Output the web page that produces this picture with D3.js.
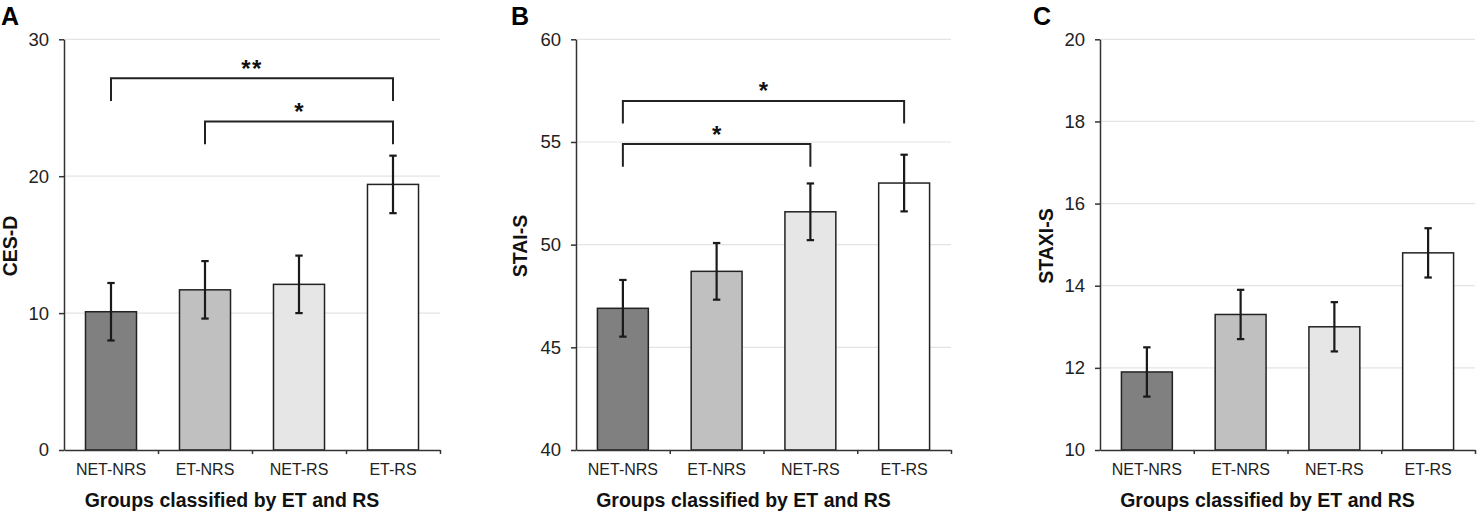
<!DOCTYPE html>
<html>
<head>
<meta charset="utf-8">
<script src="https://cdn.jsdelivr.net/npm/d3@7"></script>
<style>
  body { margin: 0; background: #fff; }
  svg { display: block; font-family: "Liberation Sans", Arial, sans-serif; }
  .grid line { stroke: #e4e4e4; stroke-width: 1.2; }
  .yaxis path, .yaxis line, .xaxis path, .xaxis line { stroke: #333; stroke-width: 1.5; }
  .yaxis text { font-size: 18.5px; fill: #222; }
  .cats text { font-size: 16px; fill: #222; }
  .bar { stroke: #222; stroke-width: 1.5; }
  .err { stroke: #1a1a1a; stroke-width: 2.2; }
  .bracket { fill: none; stroke: #222; stroke-width: 2; }
  .star { font-size: 24px; font-weight: bold; fill: #111; text-anchor: middle; }
  .title { font-size: 19.5px; font-weight: bold; fill: #111; }
  .letter { font-size: 25px; font-weight: bold; fill: #000; }
</style>
</head>
<body>
<script>
// data
const categories = ["NET-NRS", "ET-NRS", "NET-RS", "ET-RS"];

const cesdMeans  = [10.1, 11.7, 12.1, 19.4];
const cesdErrors = [2.1, 2.1, 2.1, 2.1];
const cesdTicks  = [0, 10, 20, 30];
const cesdBrackets = [
  { from: 0, to: 3, level: 27.15, label: "**" },
  { from: 1, to: 3, level: 24.0, label: "*" }
];

const staiMeans  = [46.9, 48.7, 51.6, 53.0];
const staiErrors = [1.38, 1.38, 1.38, 1.38];
const staiTicks  = [40, 45, 50, 55, 60];
const staiBrackets = [
  { from: 0, to: 3, level: 57.0, label: "*" },
  { from: 0, to: 2, level: 54.9, label: "*" }
];

const staxiMeans  = [11.9, 13.3, 13.0, 14.8];
const staxiErrors = [0.6, 0.6, 0.6, 0.6];
const staxiTicks  = [10, 12, 14, 16, 18, 20];
const staxiBrackets = [];

const xTitle = "Groups classified by ET and RS";
const barFills = ["#808080", "#c0c0c0", "#e6e6e6", "#ffffff"];

const W = 1477, H = 515;
const plotTop = 39.3, plotBottom = 450;

const svg = d3.select("body").append("svg")
  .attr("width", W).attr("height", H);

const panels = [
  { letter: "A", letterX: 1,    left: 64,   right: 440,  yTitle: "CES-D",   yTitleX: 16.5,
    means: cesdMeans,  errors: cesdErrors,  ticks: cesdTicks,  brackets: cesdBrackets },
  { letter: "B", letterX: 511,  left: 576,  right: 951,  yTitle: "STAI-S",  yTitleX: 526.5,
    means: staiMeans,  errors: staiErrors,  ticks: staiTicks,  brackets: staiBrackets },
  { letter: "C", letterX: 1033, left: 1100, right: 1475, yTitle: "STAXI-S", yTitleX: 1052.5,
    means: staxiMeans, errors: staxiErrors, ticks: staxiTicks, brackets: staxiBrackets }
];

panels.forEach(drawPanel);

function drawPanel(p) {
  const g = svg.append("g");

  const y = d3.scaleLinear()
    .domain(d3.extent(p.ticks))
    .range([plotBottom, plotTop]);

  const x = d3.scaleBand()
    .domain(categories)
    .range([p.left, p.right])
    .paddingInner(0.457)
    .paddingOuter(0.2285);

  // gridlines
  g.append("g").attr("class", "grid")
    .selectAll("line")
    .data(p.ticks.slice(1))
    .join("line")
    .attr("x1", p.left).attr("x2", p.right)
    .attr("y1", d => y(d)).attr("y2", d => y(d));

  // bars
  g.selectAll(".bar")
    .data(p.means)
    .join("rect")
    .attr("class", "bar")
    .attr("x", (d, i) => x(categories[i]))
    .attr("width", x.bandwidth())
    .attr("y", d => y(d))
    .attr("height", d => y.range()[0] - y(d))
    .attr("fill", (d, i) => barFills[i]);

  // error bars
  const cx = i => x(categories[i]) + x.bandwidth() / 2;
  const cap = 3.7;
  const eg = g.append("g");
  p.means.forEach((m, i) => {
    const e = p.errors[i];
    eg.append("line").attr("class", "err")
      .attr("x1", cx(i)).attr("x2", cx(i))
      .attr("y1", y(m + e)).attr("y2", y(m - e));
    [m + e, m - e].forEach(v => {
      eg.append("line").attr("class", "err")
        .attr("x1", cx(i) - cap).attr("x2", cx(i) + cap)
        .attr("y1", y(v)).attr("y2", y(v));
    });
  });

  // y axis
  g.append("g").attr("class", "yaxis")
    .attr("transform", `translate(${p.left},0)`)
    .call(d3.axisLeft(y).tickValues(p.ticks).tickSize(5).tickSizeOuter(0).tickPadding(10))
    .call(a => a.selectAll("text").attr("font-family", null).attr("font-size", null));

  // x axis with ticks at the band boundaries
  const xb = d3.scaleLinear().domain([0, categories.length]).range([p.left, p.right]);
  g.append("g").attr("class", "xaxis")
    .attr("transform", `translate(0,${plotBottom})`)
    .call(d3.axisBottom(xb).tickValues(d3.range(1, categories.length + 1))
      .tickSize(4).tickSizeOuter(0).tickFormat(""));

  // category labels
  g.append("g").attr("class", "cats")
    .attr("transform", `translate(0,${plotBottom})`)
    .call(d3.axisBottom(x).tickSize(0).tickPadding(13.6))
    .call(a => a.select(".domain").remove())
    .call(a => a.selectAll("text").attr("font-family", null).attr("font-size", null));

  // significance brackets
  const drop = 22.7;
  p.brackets.forEach(b => {
    const x1 = cx(b.from), x2 = cx(b.to), yy = y(b.level);
    g.append("path").attr("class", "bracket")
      .attr("d", `M${x1},${yy + drop}V${yy}H${x2}V${yy + drop}`);
    g.append("text").attr("class", "star")
      .attr("x", (x1 + x2) / 2).attr("y", yy - 1.5)
      .attr("letter-spacing", b.label.length > 1 ? 1.5 : 0)
      .text(b.label);
  });

  // titles
  g.append("text").attr("class", "title")
    .attr("text-anchor", "middle")
    .attr("x", (p.left + p.right) / 2 - 20)
    .attr("y", 507)
    .text(xTitle);

  g.append("text").attr("class", "title")
    .attr("text-anchor", "middle")
    .attr("transform", `translate(${p.yTitleX},246) rotate(-90)`)
    .text(p.yTitle);

  g.append("text").attr("class", "letter")
    .attr("x", p.letterX).attr("y", 25)
    .text(p.letter);
}
</script>
</body>
</html>
